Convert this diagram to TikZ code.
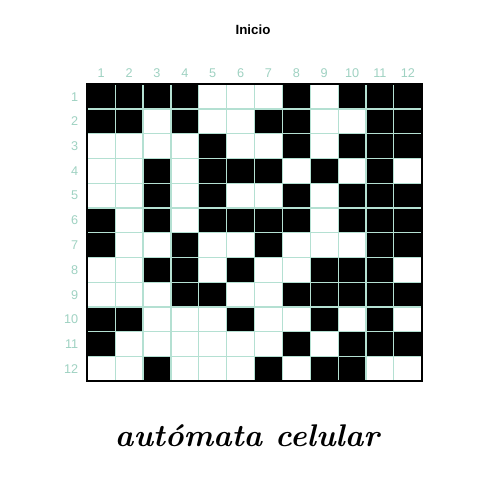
\documentclass[tikz,border=0pt]{standalone}
\usepackage{fontspec}
\newfontfamily\labelfont{Liberation Sans}
\usepackage{xcolor}
\definecolor{cGrid}{HTML}{B4E0D2}
\definecolor{cLabel}{HTML}{9FD2C2}
\definecolor{cCell}{HTML}{000000}
\usetikzlibrary{positioning}
\tikzset{
  cell-on/.style={fill=cCell},
  grid-line/.style={draw=cGrid,line width=0.9pt},
  grid-frame/.style={draw=black,line width=1.5pt},
  lbl-col/.style={font=\labelfont\fontsize{9.5}{9.5}\selectfont,text=cLabel,inner sep=0pt},
  lbl-row/.style={font=\labelfont\fontsize{9.5}{9.5}\selectfont,text=cLabel,inner sep=0pt,anchor=east},
  lbl-title/.style={font=\labelfont\bfseries\fontsize{10}{10}\selectfont,inner sep=0pt},
  lbl-caption/.style={font=\bfseries\itshape\fontsize{23.5}{23.5}\selectfont,inner sep=0pt},
}

\begin{document}
\begin{tikzpicture}[x=0.75pt,y=0.75pt]
  \fill[white] (0,0) rectangle (480,480);
  \useasboundingbox (0,0) rectangle (480,480);
  % celdas negras, fila por fila
  \foreach \row/\bits in {1/{1,1,1,1,0,0,0,1,0,1,1,1},
                          2/{1,1,0,1,0,0,1,1,0,0,1,1},
                          3/{0,0,0,0,1,0,0,1,0,1,1,1},
                          4/{0,0,1,0,1,1,1,0,1,0,1,0},
                          5/{0,0,1,0,1,0,0,1,0,1,1,1},
                          6/{1,0,1,0,1,1,1,1,0,1,1,1},
                          7/{1,0,0,1,0,0,1,0,0,0,1,1},
                          8/{0,0,1,1,0,1,0,0,1,1,1,0},
                          9/{0,0,0,1,1,0,0,1,1,1,1,1},
                          10/{1,1,0,0,0,1,0,0,1,0,1,0},
                          11/{1,0,0,0,0,0,0,1,0,1,1,1},
                          12/{0,0,1,0,0,0,1,0,1,1,0,0}} {
    \foreach \b [count=\col] in \bits {
      \ifnum\b=1
        \fill[cell-on] ({87.3+(\col-1)*27.87},{395.7-\row*24.75}) rectangle ++(27.87,24.75);
      \fi
    }
  }
  % rejilla
  \foreach \i in {1,...,11} {
    \draw[grid-line] ({87.3+\i*27.87},98.7) -- ({87.3+\i*27.87},395.7);
    \draw[grid-line] (87.3,{395.7-\i*24.75}) -- (421.7,{395.7-\i*24.75});
  }
  \draw[grid-frame] (87.3,98.7) rectangle (421.7,395.7);
  % etiquetas
  \foreach \c in {1,...,12} {
    \node[lbl-col] (col-\c) at ({87.3+(\c-0.5)*27.87},406.5) {\c};
    \node[lbl-row] (row-\c) at (78.5,{395.7-(\c-0.5)*24.75}) {\c};
  }
  \node[lbl-title] (title) at (253,450) {Inicio};
  \node[lbl-caption] (caption) at (247,44) {autómata celular};
\end{tikzpicture}
\end{document}
